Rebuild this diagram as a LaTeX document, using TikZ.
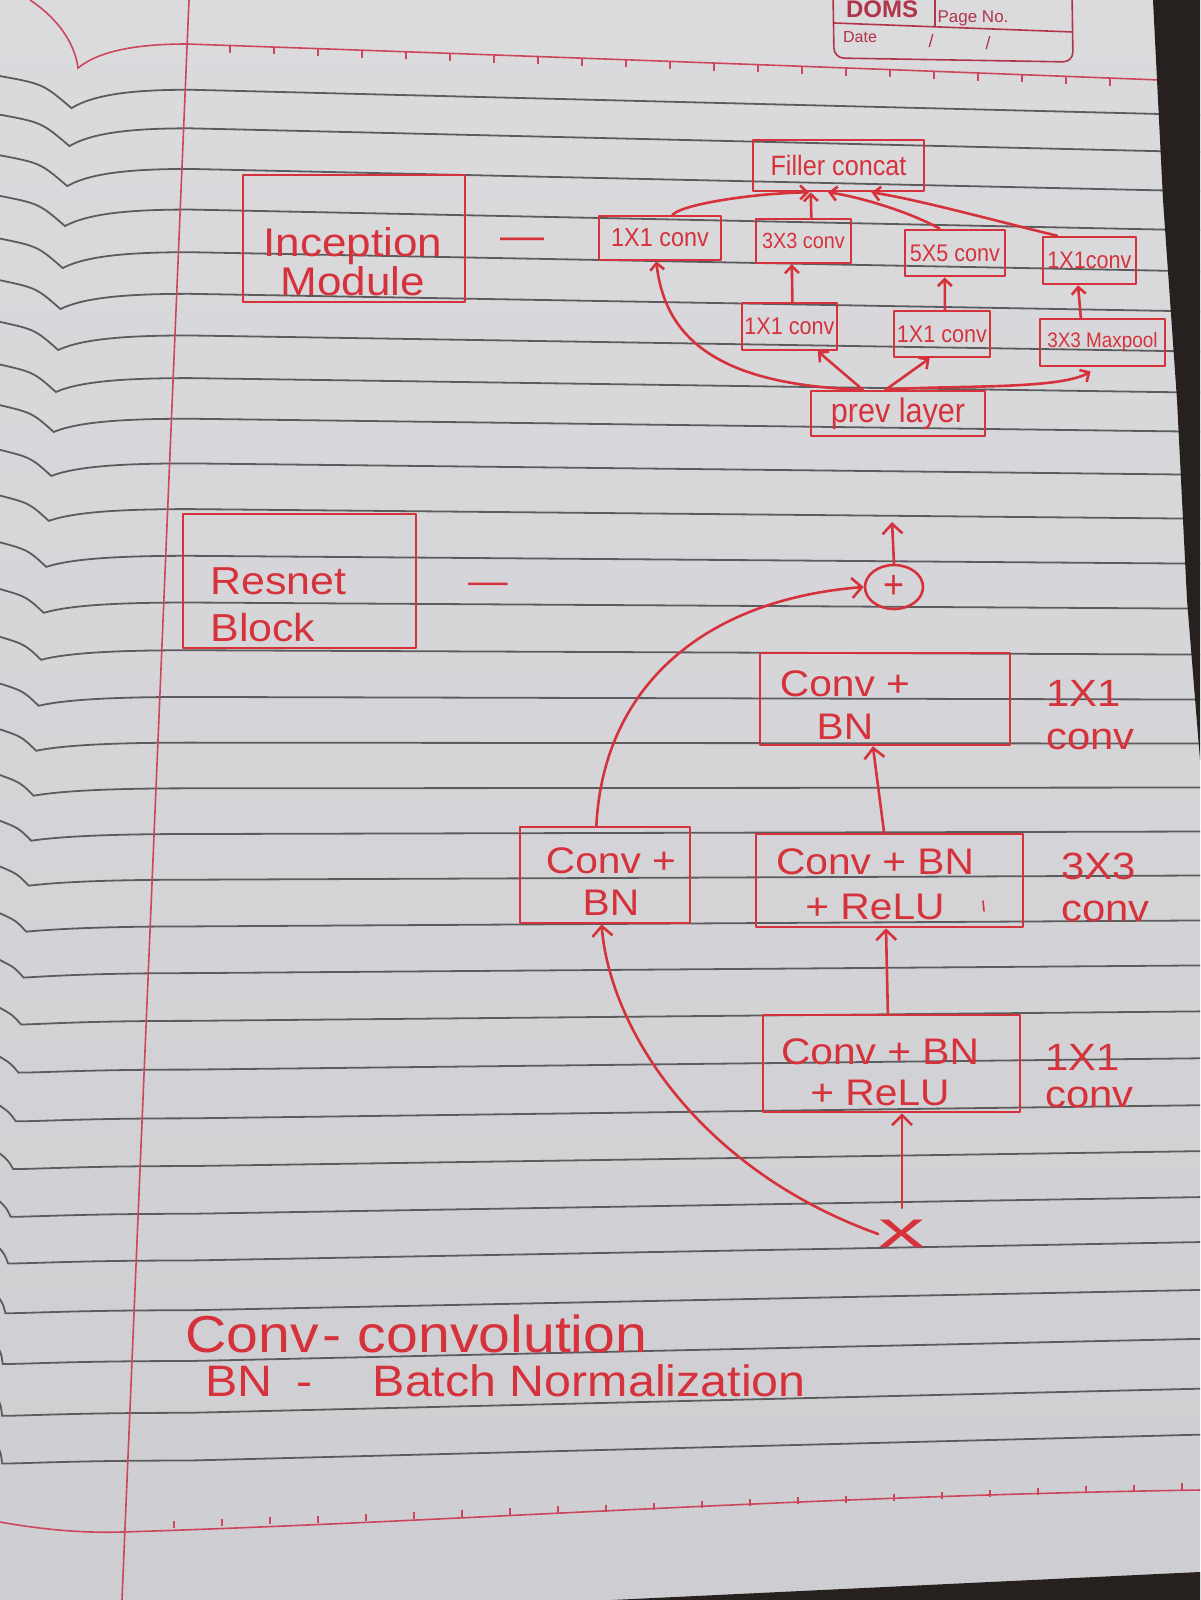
\documentclass[tikz,border=0pt]{standalone}
\usepackage{fontspec}
\setmainfont{Liberation Sans}
\newfontfamily\hand[FakeStretch=0.9]{Liberation Sans}
\newfontfamily\handw[FakeStretch=1.1]{Liberation Sans}
\usetikzlibrary{arrows.meta,calc,fit,shapes.geometric}
\definecolor{ink}{RGB}{214,50,60}
\definecolor{paper}{RGB}{219,219,222}
\definecolor{paperlow}{RGB}{206,206,210}
\definecolor{rulegrey}{RGB}{92,92,94}
\definecolor{margin}{RGB}{204,70,92}
\definecolor{printred}{RGB}{176,52,74}
\definecolor{shadow}{RGB}{38,32,30}
\newcommand\hsz[2]{\hand\fontsize{#1}{#2}\selectfont}
\newcommand\hw[2]{\handw\fontsize{#1}{#2}\selectfont}
\newcommand\psz[2]{\fontsize{#1}{#2}\selectfont}

\begin{document}
\begin{tikzpicture}[x=0.5pt,y=-0.5pt,
  inkline/.style={draw=ink,line width=1.3pt,line cap=round,line join=round},
  box/.style={inkline,rectangle,inner sep=0pt,fit={#1}},
  txt/.style={text=ink,inner sep=0pt},
  arrS/.style={inkline,-{Straight Barb[length=3.5pt,width=7pt]}},
  arrL/.style={inkline,-{Straight Barb[length=5pt,width=10pt]}},
  ruleline/.style={draw=rulegrey,line width=0.9pt},
  marginline/.style={draw=margin,line width=0.8pt},
  printline/.style={draw=printred,line width=0.8pt},
  prt/.style={text=printred,inner sep=0pt}]

% page
\useasboundingbox (0,0) rectangle (1200,1600);
\clip (0,0) rectangle (1200,1600);
\shade[top color=paper,bottom color=paperlow] (0,0) rectangle (1200,1600);

% ruled lines, bending into the binding on the left
\foreach \yc in {100,138,178,218,260,301,342,384,424,468,513,559,605,652,698,743,788,833,878,924,970,1017,1065,1113,1160,1207,1253,1302,1352,1403,1450}{
  \pgfmathsetmacro\rtilt{30-(\yc-100)*0.045}
  \pgfmathsetmacro\rya{\yc-\rtilt*0.342}
  \pgfmathsetmacro\ryb{\yc+\rtilt*0.5}
  \pgfmathsetmacro\rxc{max(2,77-0.055*\yc)}
  \pgfmathsetmacro\rdip{max(3,20-0.016*\yc)}
  \draw[ruleline] (-2,{\rya-14}) .. controls ({\rxc*0.6},{\rya-6}) .. ({\rxc},{\rya+\rdip})
     .. controls ({\rxc+25},{\rya+3}) and ({\rxc+70},{\rya}) .. (190,\rya) -- (1200,\ryb);
}

% red margin and top / bottom rulers
\draw[marginline] (189,0) -- (122,1600);
\draw[marginline] (30,0) .. controls (60,20) and (75,45) .. (78,68)
   .. controls (100,50) and (140,44) .. (187,44)
   .. controls (500,55) and (800,66) .. (1160,80);
\foreach \tx in {230,274,...,1150}
  \draw[marginline] (\tx,{44+(\tx-187)*0.0375}) -- ++(0,7);
\draw[marginline] (0,1522) .. controls (50,1531) and (90,1533) .. (122,1532)
   .. controls (450,1522) and (800,1496) .. (1200,1490);
\foreach \tx in {174,222,...,1182}
  \draw[marginline] (\tx,{1530-(\tx-122)*0.038}) -- ++(0,-7);

% printed header
\draw[printline,rounded corners=5pt] (833,-10) -- (834,58) -- (1073,62) -- (1072,-10);
\draw[printline] (834,23) -- (1073,32);
\draw[printline] (935,-10) -- (935,26);
\node[prt,font=\bfseries\psz{12}{12}] (doms) at (882,9) {DOMS};
\node[prt,font=\psz{8.5}{9}] (pageno) at (973,18) {Page No.};
\node[prt,font=\psz{8}{9}] (date) at (860,37) {Date};
\node[prt,font=\psz{9}{9}] (sl1) at (931,41) {/};
\node[prt,font=\psz{9}{9}] (sl2) at (988,43) {/};

% outside the page
\fill[shadow] (1153,0) -- (1163,200) -- (1177,400) -- (1187,600) -- (1200,760) -- (1200,0) -- cycle;
\fill[shadow] (612,1600) -- (1200,1572) -- (1200,1600) -- cycle;

% ---------------- Inception module ----------------
\node[box={(243,175) (465,302)}] (inc) {};
\node[txt,font=\hw{20}{19.5},align=center] (inct) at (353,262) {Inception\\Module};
\node[txt,font=\hw{20}{20}] (dash1) at (522,244) {—};

\node[box={(753,140) (924,191)}] (fc) {};
\node[txt,font=\hsz{14}{14}] (fct) at (fc) {Filler concat};
\node[box={(599,216) (721,260)}] (c1) {};
\node[txt,font=\hsz{13}{13}] (c1t) at (c1) {1X1 conv};
\node[box={(756,219) (851,263)}] (c3) {};
\node[txt,font=\hsz{11}{11}] (c3t) at (c3) {3X3 conv};
\node[box={(905,230) (1005,276)}] (c5) {};
\node[txt,font=\hsz{12}{12}] (c5t) at (c5) {5X5 conv};
\node[box={(1043,237) (1136,284)}] (c1r) {};
\node[txt,font=\hsz{12}{12}] (c1rt) at (c1r) {1X1conv};
\node[box={(742,303) (837,350)}] (m1) {};
\node[txt,font=\hsz{12}{12}] (m1t) at (m1) {1X1 conv};
\node[box={(894,311) (990,357)}] (m2) {};
\node[txt,font=\hsz{12}{12}] (m2t) at (m2) {1X1 conv};
\node[box={(1040,319) (1165,366)}] (mp) {};
\node[txt,font=\hsz{10.5}{11}] (mpt) at (mp) {3X3 Maxpool};
\node[box={(811,391) (985,436)}] (pl) {};
\node[txt,font=\hsz{17}{17}] (plt) at (pl) {prev layer};

\draw[arrS] ($(c1.north west)!0.6!(c1.north east)$) .. controls (685,203) and (760,193) .. ($(fc.south west)!0.33!(fc.south east)$);
\draw[arrS] ($(c3.north west)!0.58!(c3.north east)$) -- ($(fc.south west)!0.34!(fc.south east)$);
\draw[arrS] ($(c5.north west)!0.35!(c5.north east)$) .. controls (910,212) and (860,197) .. ($(fc.south west)!0.44!(fc.south east)$);
\draw[arrS] ($(c1r.north west)!0.16!(c1r.north east)$) .. controls (1000,222) and (920,200) .. ($(fc.south west)!0.69!(fc.south east)$);
\draw[arrS] ($(m1.north west)!0.53!(m1.north east)$) -- ($(c3.south west)!0.38!(c3.south east)$);
\draw[arrS] ($(m2.north west)!0.53!(m2.north east)$) -- ($(c5.south west)!0.4!(c5.south east)$);
\draw[arrS] ($(mp.north west)!0.33!(mp.north east)$) -- ($(c1r.south west)!0.38!(c1r.south east)$);
\draw[arrS] ($(pl.north west)!0.3!(pl.north east)$) -- ($(m1.south west)!0.79!(m1.south east)$);
\draw[arrS] ($(pl.north west)!0.43!(pl.north east)$) -- ($(m2.south west)!0.375!(m2.south east)$);
\draw[arrS] ($(pl.north west)!0.3!(pl.north east)$) .. controls (720,385) and (665,340) .. ($(c1.south west)!0.47!(c1.south east)$);
\draw[arrS,shorten >=4pt] ($(pl.north west)!0.43!(pl.north east)$) .. controls (950,385) and (1060,390) .. ($(mp.south west)!0.46!(mp.south east)$);

% ---------------- Resnet block ----------------
\node[box={(183,514) (416,648)}] (rb) {};
\node[txt,font=\hw{19.5}{23.5},align=left,anchor=north west] (rbt) at (210,567) {Resnet\\Block};
\node[txt,font=\hw{18}{18}] (dash2) at (488,588) {—};

\node[inkline,ellipse,minimum width=29pt,minimum height=22pt,inner sep=0pt,
      text=ink,font=\hsz{20}{20}] (add) at (894,587) {+};
\coordinate (out) at (892,522);

\node[box={(760,653) (1010,745)}] (r1) {};
\node[txt,font=\hw{18.5}{21.5},align=center] (r1t) at (845,705) {Conv +\\BN};
\node[box={(756,834) (1023,927)}] (r2) {};
\node[txt,font=\hw{18.5}{22.5},align=center] (r2t) at (875,884) {Conv + BN\\+ ReLU};
\node[box={(763,1015) (1020,1112)}] (r3) {};
\node[txt,font=\hw{18.5}{20.5},align=center] (r3t) at (880,1072) {Conv + BN\\+ ReLU};
\node[box={(520,827) (690,923)}] (lb) {};
\node[txt,font=\hw{18.5}{21},align=center] (lbt) at (611,882) {Conv +\\BN};

\node[txt,font=\hw{19}{21.5},align=left,anchor=north west] (s1) at (1046,680) {1X1\\conv};
\node[txt,font=\hw{19}{21},align=left,anchor=north west] (s2) at (1061,853) {3X3\\conv};
\node[txt,font=\hw{19}{18.5},align=left,anchor=north west] (s3) at (1045,1044) {1X1\\conv};

\node[txt,font=\hsz{26}{26}] (xn) at (902,1234) {\scalebox{2}[1]{x}};

\draw[inkline,line width=0.8pt] (983,901) -- (984,911);

\draw[arrL] (add.north) -- (out);
\draw[arrL] ($(lb.north west)!0.45!(lb.north east)$) .. controls (603,690) and (700,600) .. (add.west);
\draw[arrL] ($(r2.north west)!0.48!(r2.north east)$) -- ($(r1.south west)!0.452!(r1.south east)$);
\draw[arrL] ($(r3.north west)!0.486!(r3.north east)$) -- ($(r2.south west)!0.487!(r2.south east)$);
\draw[arrL,shorten <=6pt] (xn.north) -- (xn.north |- r3.south);
\draw[arrL] (xn.west) .. controls (700,1170) and (610,1030) .. ($(lb.south west)!0.48!(lb.south east)$);

% ---------------- legend ----------------
\node[txt,font=\hw{26}{26},anchor=base west] (leg1) at (185,1352) {Conv\hspace{2pt}-\hspace{8pt}convolution};
\node[txt,font=\hw{22}{22},anchor=base west] (leg2) at (205,1396) {BN\hspace{12pt}-\hspace{30pt}Batch Normalization};

\end{tikzpicture}
\end{document}
